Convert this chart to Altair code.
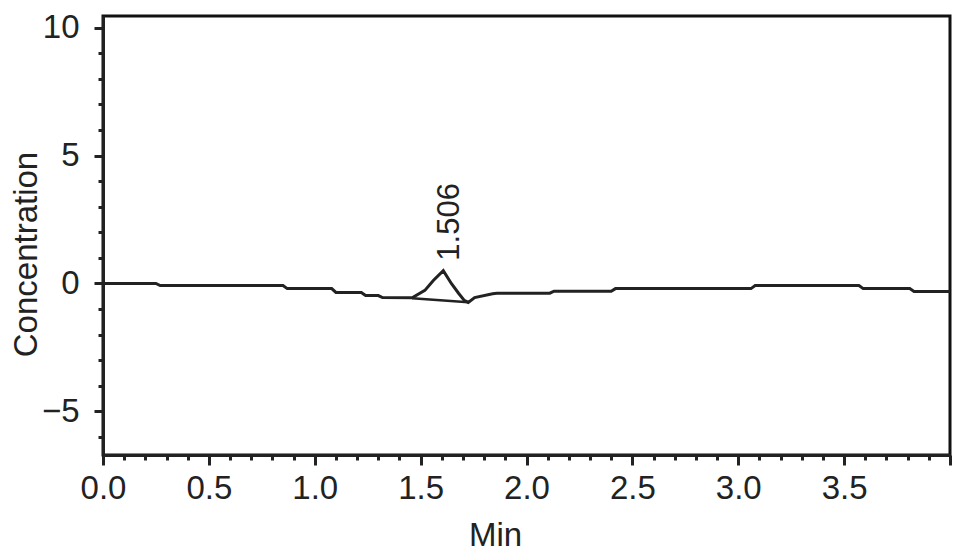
import altair as alt
import pandas as pd

# ---- data ----
time_min = [0.00, 0.25, 0.27, 0.85, 0.87, 1.08, 1.10, 1.22, 1.24, 1.30, 1.32,
            1.46, 1.52, 1.56, 1.607, 1.645, 1.68, 1.706, 1.725, 1.755, 1.84, 1.86,
            2.11, 2.13, 2.40, 2.42, 3.06, 3.08, 3.57, 3.59, 3.81, 3.83, 4.00]
concentration = [0.00, 0.00, -0.08, -0.08, -0.20, -0.20, -0.35, -0.35, -0.47, -0.47, -0.55,
                 -0.56, -0.27, 0.12, 0.50, 0.00, -0.39, -0.66, -0.74, -0.55, -0.40, -0.38,
                 -0.38, -0.30, -0.30, -0.20, -0.20, -0.08, -0.08, -0.20, -0.20, -0.31, -0.31]

baseline_time = [1.46, 1.725]
baseline_conc = [-0.58, -0.73]

peak_labels = ["1.506"]
peak_time = [1.607]
peak_conc = [0.50]

x_tick_values = [round(i * 0.1, 1) for i in range(0, 41)]
y_tick_values = list(range(-6, 11))

FONT = "Liberation Sans"
INK = "#222222"
FS = 33

signal = pd.DataFrame({"t": time_min, "c": concentration})
base = pd.DataFrame({"t": baseline_time, "c": baseline_conc})
peaks = pd.DataFrame({"t": peak_time, "c": peak_conc, "label": peak_labels})

x_scale = alt.Scale(domain=[0, 4.0], nice=False, zero=False)
y_scale = alt.Scale(domain=[-6.7, 10.45], nice=False, zero=False)

major_x = "abs(datum.value*2 - round(datum.value*2)) < 0.001"
major_y = "abs(datum.value % 5) < 0.001"

x_axis = alt.Axis(
    title="Min",
    values=x_tick_values,
    labelExpr=f"({major_x}) && datum.value < 3.9 ? format(datum.value, '.1f') : ''",
    tickSize={"condition": {"test": major_x, "value": 10}, "value": 5},
    labelPadding=7, labelOverlap=False,
    titleX=392, titleY=80, titleAlign="center", titleBaseline="middle",
)
y_axis = alt.Axis(
    title="Concentration",
    values=y_tick_values,
    labelExpr=f"({major_y}) ? format(datum.value, 'd') : ''",
    tickSize={"condition": {"test": major_y, "value": 9}, "value": 5},
    labelPadding=15, labelOverlap=False,
    titleX=-77, titleY=238, titleAngle=270, titleAlign="center", titleBaseline="middle",
)

line = alt.Chart(signal).mark_line(color=INK, strokeWidth=3, clip=True).encode(
    x=alt.X("t:Q", scale=x_scale, axis=x_axis),
    y=alt.Y("c:Q", scale=y_scale, axis=y_axis),
    order="t:Q",
)
baseline = alt.Chart(base).mark_line(color=INK, strokeWidth=2.5).encode(
    x=alt.X("t:Q", scale=x_scale, axis=x_axis),
    y=alt.Y("c:Q", scale=y_scale, axis=y_axis),
)
label = alt.Chart(peaks).mark_text(
    angle=270, align="left", baseline="middle", dx=10, dy=7,
    font=FONT, fontSize=31, color=INK,
).encode(
    x=alt.X("t:Q", scale=x_scale, axis=x_axis),
    y=alt.Y("c:Q", scale=y_scale, axis=y_axis),
    text="label:N",
)

chart = alt.layer(line, baseline, label).properties(
    width=847, height=439,
    background="white",
    autosize=alt.AutoSizeParams(type="none"),
    padding={"left": 95, "top": 8, "right": 10, "bottom": 98},
).configure_view(
    stroke="#111111", strokeWidth=3
).configure_axis(
    grid=False, labelOverlap=False, labelFlush=False,
    domainColor=INK, domainWidth=3, tickColor=INK, tickWidth=3,
    labelFont=FONT, labelFontSize=FS, labelColor=INK,
    titleFont=FONT, titleFontSize=FS, titleColor=INK, titleFontWeight="normal",
)

chart.save("out.html", embed_options={"renderer": "svg", "actions": False})
